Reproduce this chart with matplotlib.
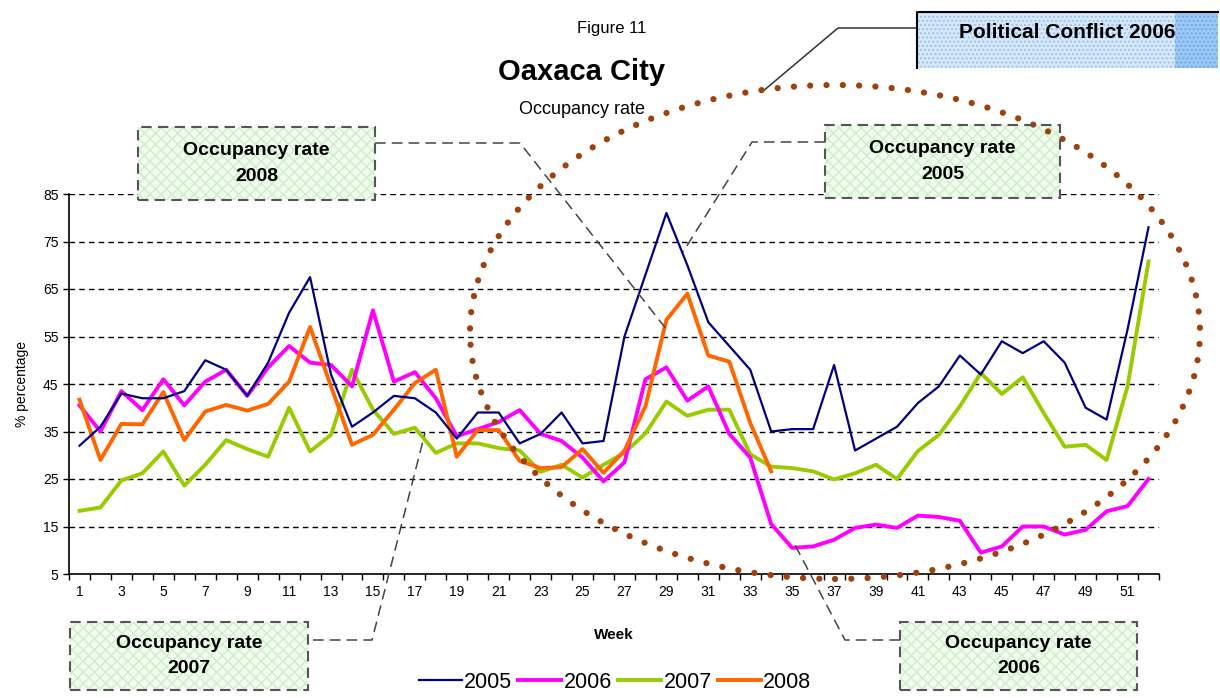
import matplotlib
matplotlib.use("Agg")
import matplotlib.pyplot as plt
from matplotlib.patches import Rectangle, Ellipse
from matplotlib.lines import Line2D

plt.rcParams['font.family'] = ['Liberation Sans', 'DejaVu Sans']

weeks = list(range(1, 53))
occ_2005 = [32, 36, 43, 42, 42, 43.5, 50, 48, 42.5, 49.5, 60, 67.5, 47, 36,
            39, 42.5, 42, 39, 33.5, 39, 39, 32.5, 34.5, 39, 32.5, 33, 55, 68,
            81, 70, 58, 53, 48, 35, 35.5, 35.5, 49, 31, 33.5, 36, 41, 44.5,
            51, 47, 54, 51.5, 54, 49.5, 40, 37.5, 56.5, 78]
occ_2006 = [40.5, 35, 43.5, 39.5, 46, 40.5, 45.5, 48, 42.5, 48.5, 53, 49.5, 49, 44.5,
            60.5, 45.5, 47.5, 42, 34, 35.5, 37, 39.5, 34.5, 33, 29.5, 24.5, 28.5, 46,
            48.5, 41.5, 44.5, 34.5, 29.5, 15.5, 10.5, 10.8, 12.2, 14.7, 15.4, 14.7, 17.3, 17,
            16.2, 9.5, 10.8, 15, 15, 13.3, 14.3, 18.2, 19.3, 25]
occ_2007 = [18.3, 19, 24.7, 26.2, 30.8, 23.6, 28, 33.2, 31.3, 29.7, 40, 30.8, 34.3, 48,
            39.6, 34.5, 35.8, 30.5, 32.5, 32.5, 31.5, 31, 26.5, 28, 25.3, 28, 30.5, 34.6,
            41.3, 38.3, 39.6, 39.6, 30.2, 27.6, 27.3, 26.6, 24.9, 26.2, 28, 25, 30.9, 34.3,
            40.3, 47.3, 42.9, 46.4, 38.9, 31.8, 32.2, 29, 44.5, 70.8]
occ_2008 = [41.7, 29, 36.6, 36.5, 43.3, 33.2, 39.2, 40.6, 39.4, 40.8, 45.5, 57, 44.5, 32.2,
            34.3, 39.6, 45.2, 48, 29.7, 35.3, 35.3, 28.8, 27.3, 27.5, 31.3, 26.3, 31, 40.3,
            58.5, 64, 51, 49.7, 36.8, 26.6]

W, H = 1220, 698


def fx(x):
    return x / W


def fy(y):
    return 1 - y / H


fig = plt.figure(figsize=(12.2, 6.98), dpi=100)
ax = fig.add_axes([fx(69), fy(574), fx(1159) - fx(69), fy(194) - fy(574)])

ax.plot(weeks, occ_2005, color='#000080', lw=1.6, label='2005', zorder=5)
ax.plot(weeks, occ_2006, color='#FF00FF', lw=2.8, label='2006', zorder=3)
ax.plot(weeks, occ_2007, color='#99CC00', lw=2.8, label='2007', zorder=2)
ax.plot(weeks[:len(occ_2008)], occ_2008, color='#FF6600', lw=2.8, label='2008', zorder=4)

ax.set_xlim(0.5, 52.5)
ax.set_ylim(5, 85)
ax.set_yticks(range(5, 86, 10))
ax.set_xticks(range(1, 53, 2))
ax.set_xticks([w + 0.5 for w in range(0, 53)], minor=True)
ax.tick_params(axis='x', which='major', length=0, labelsize=10, pad=8)
ax.tick_params(axis='x', which='minor', length=4, width=1)
ax.tick_params(axis='y', length=4, width=1, labelsize=10)
for y in range(15, 86, 10):
    ax.axhline(y, color='black', lw=1, ls=(0, (4, 3)), zorder=1)
for s in ['top', 'right']:
    ax.spines[s].set_visible(False)
ax.spines['left'].set_linewidth(1.2)
ax.spines['bottom'].set_linewidth(1.2)
ax.set_ylabel('% percentage', fontsize=10, labelpad=10)
ax.set_xlabel('Week', fontsize=11, fontweight='bold', labelpad=21)

ax.legend(loc='center', bbox_to_anchor=(fx(615), fy(682)), bbox_transform=fig.transFigure,
          ncol=4, frameon=False, fontsize=15.5, handlelength=2.0, handletextpad=0.1,
          columnspacing=0.3, borderpad=0.1)

# titles
fig.text(fx(612), fy(28), 'Figure 11', ha='center', va='center', fontsize=12)
fig.text(fx(582), fy(72), 'Oaxaca City', ha='center', va='center', fontsize=21, fontweight='bold')
fig.text(fx(582), fy(110), 'Occupancy rate', ha='center', va='center', fontsize=13)


def box(x0, y0, x1, y1, text, fs=14):
    fig.add_artist(Rectangle((fx(x0), fy(y1)), fx(x1) - fx(x0), fy(y0) - fy(y1),
                             transform=fig.transFigure, facecolor='#F2FBF0',
                             edgecolor='#CDEFC8', hatch='xxx', lw=0, zorder=6))
    fig.add_artist(Rectangle((fx(x0), fy(y1)), fx(x1) - fx(x0), fy(y0) - fy(y1),
                             transform=fig.transFigure, facecolor='none',
                             edgecolor='#555555', ls=(0, (5, 3)), lw=1.5, zorder=7))
    fig.text(fx((x0 + x1) / 2), fy((y0 + y1) / 2), text, ha='center', va='center',
             fontsize=fs, fontweight='bold', zorder=8, linespacing=1.65)


def connector(pts, style=(0, (7, 4)), color='#444444'):
    xs = [fx(p[0]) for p in pts]
    ys = [fy(p[1]) for p in pts]
    fig.add_artist(Line2D(xs, ys, transform=fig.transFigure, color=color, lw=1.1,
                          ls=style, zorder=6))


box(138, 127, 375, 200, 'Occupancy rate\n2008')
connector([(375, 143), (520, 143), (667, 330)])
box(825, 125, 1060, 198, 'Occupancy rate\n2005')
connector([(825, 142), (752, 142), (683, 252)])
box(70, 622, 308, 690, 'Occupancy rate\n2007')
connector([(313, 640), (372, 640), (425, 433)])
box(900, 622, 1137, 690, 'Occupancy rate\n2006')
connector([(900, 640), (845, 640), (795, 545)])

# political conflict box
fig.add_artist(Rectangle((fx(917), fy(68)), fx(1218) - fx(917), fy(12) - fy(68),
                         transform=fig.transFigure, facecolor='#D6E8FA',
                         edgecolor='#9DC3EE', hatch='....', lw=0, zorder=6))
fig.add_artist(Rectangle((fx(1175), fy(68)), fx(1218) - fx(1175), fy(12) - fy(68),
                         transform=fig.transFigure, facecolor='#9CC8F4',
                         edgecolor='#6FA8E8', hatch='....', lw=0, zorder=6))
fig.add_artist(Line2D([fx(917), fx(917), fx(1218)], [fy(68), fy(12), fy(12)],
                      transform=fig.transFigure, color='black', lw=1.5, zorder=7))
fig.text(fx(1067), fy(33), 'Political Conflict 2006', ha='center', va='center',
         fontsize=15, fontweight='bold', zorder=8)
connector([(917, 28), (838, 28), (762, 92)], style='-', color='#333333')

# dotted ellipse around the 2006 conflict period
fig.add_artist(Ellipse((fx(835), fy(332)), fx(730), 494 / H,
                       transform=fig.transFigure, facecolor='none', edgecolor='#A0400C',
                       lw=4.5, ls=(0, (0.01, 2.6)), capstyle='round', zorder=6))

fig.savefig('out.png', dpi=100)
